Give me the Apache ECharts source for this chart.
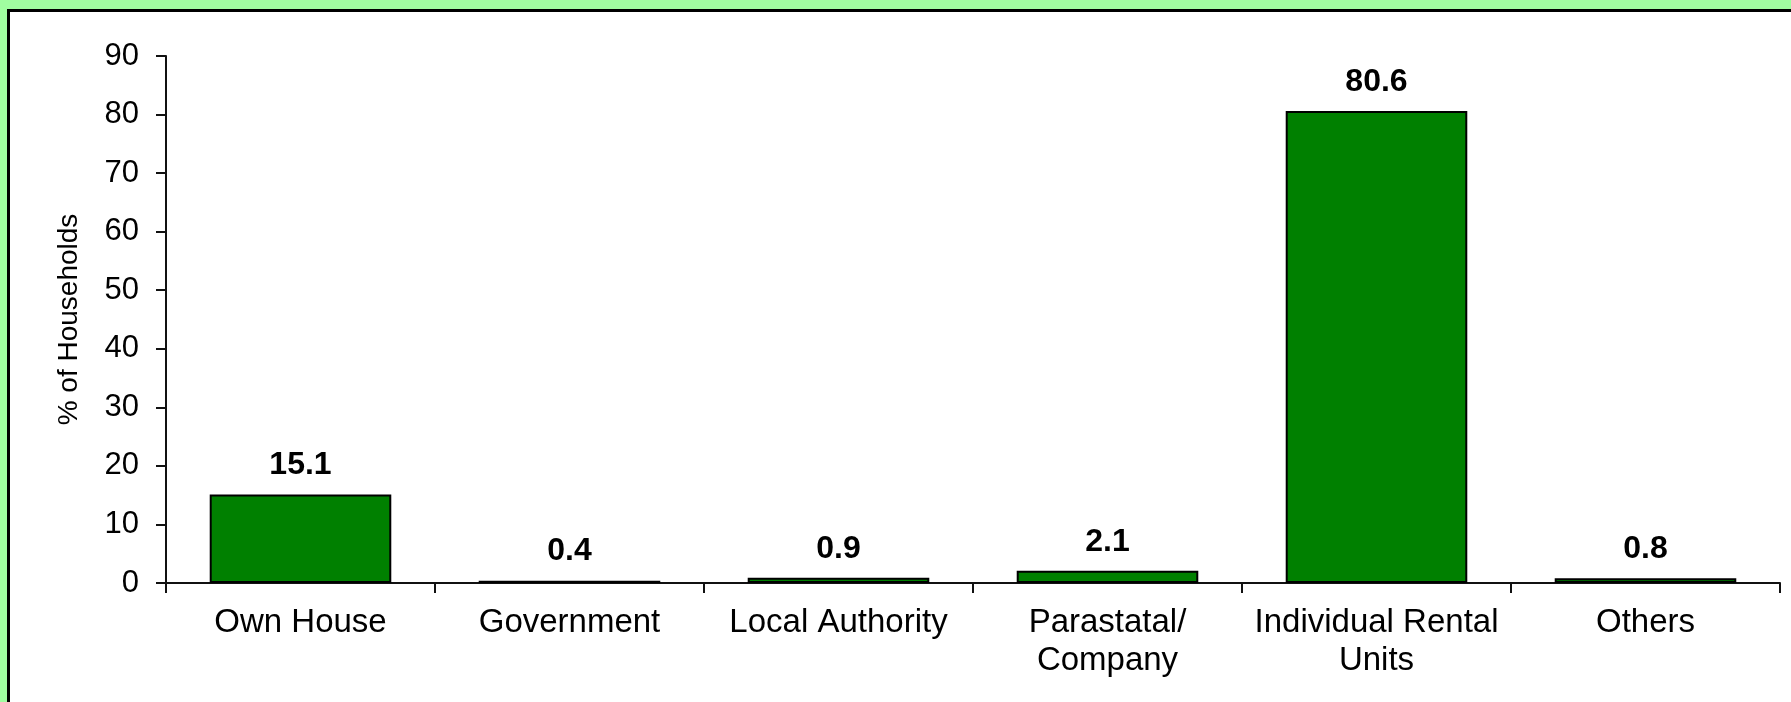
<!DOCTYPE html>
<html>
<head>
<meta charset="utf-8">
<script src="https://cdn.jsdelivr.net/npm/echarts@6/dist/echarts.min.js"></script>
<style>
  html, body { margin: 0; padding: 0; overflow: hidden; background: #a0fda0; }
  #frame {
    position: absolute; left: 7px; top: 9px;
    width: 1820px; height: 760px;
    background: #fff; border: 3px solid #000;
  }
  #chart { position: absolute; left: 0; top: 0; width: 1791px; height: 702px; }
</style>
</head>
<body>
<div id="frame"></div>
<div id="chart"></div>
<script>
const categories = ['Own House', 'Government', 'Local Authority', 'Parastatal/\nCompany', 'Individual Rental\nUnits', 'Others']
const households = [15.1, 0.4, 0.9, 2.1, 80.6, 0.8]
const yTicks = { min: 0, max: 90, interval: 10 }

const font = 'Arial, "Liberation Sans", sans-serif'

const chart = echarts.init(document.getElementById('chart'))

const option = {
  backgroundColor: 'transparent',
  animation: false,
  grid: { left: 166, right: 11, top: 56, bottom: 119 },
  xAxis: {
    type: 'category',
    data: categories,
    axisLine: { lineStyle: { color: '#111', width: 2 } },
    axisTick: { show: true, length: 10, lineStyle: { color: '#111', width: 2 } },
    axisLabel: {
      color: '#000', fontFamily: font, fontSize: 33,
      lineHeight: 38, margin: 21, interval: 0
    }
  },
  yAxis: {
    type: 'value',
    min: yTicks.min, max: yTicks.max, interval: yTicks.interval,
    name: '% of Households',
    nameLocation: 'middle',
    nameGap: 83,
    nameTextStyle: { color: '#000', fontFamily: font, fontSize: 28 },
    axisLine: { show: true, lineStyle: { color: '#111', width: 2 } },
    axisTick: { show: true, length: 10, lineStyle: { color: '#111', width: 2 } },
    axisLabel: { color: '#000', fontFamily: font, fontSize: 31, margin: 27 },
    splitLine: { show: false }
  },
  series: [{
    type: 'bar',
    data: households,
    barCategoryGap: '32.5%',
    itemStyle: { color: '#008000', borderColor: '#000', borderWidth: 2 },
    label: {
      show: true, position: 'top', distance: 13,
      color: '#000', fontFamily: font, fontSize: 32, fontWeight: 'bold'
    }
  }]
}

chart.setOption(option)
window.addEventListener('resize', () => chart.resize())
</script>
</body>
</html>
